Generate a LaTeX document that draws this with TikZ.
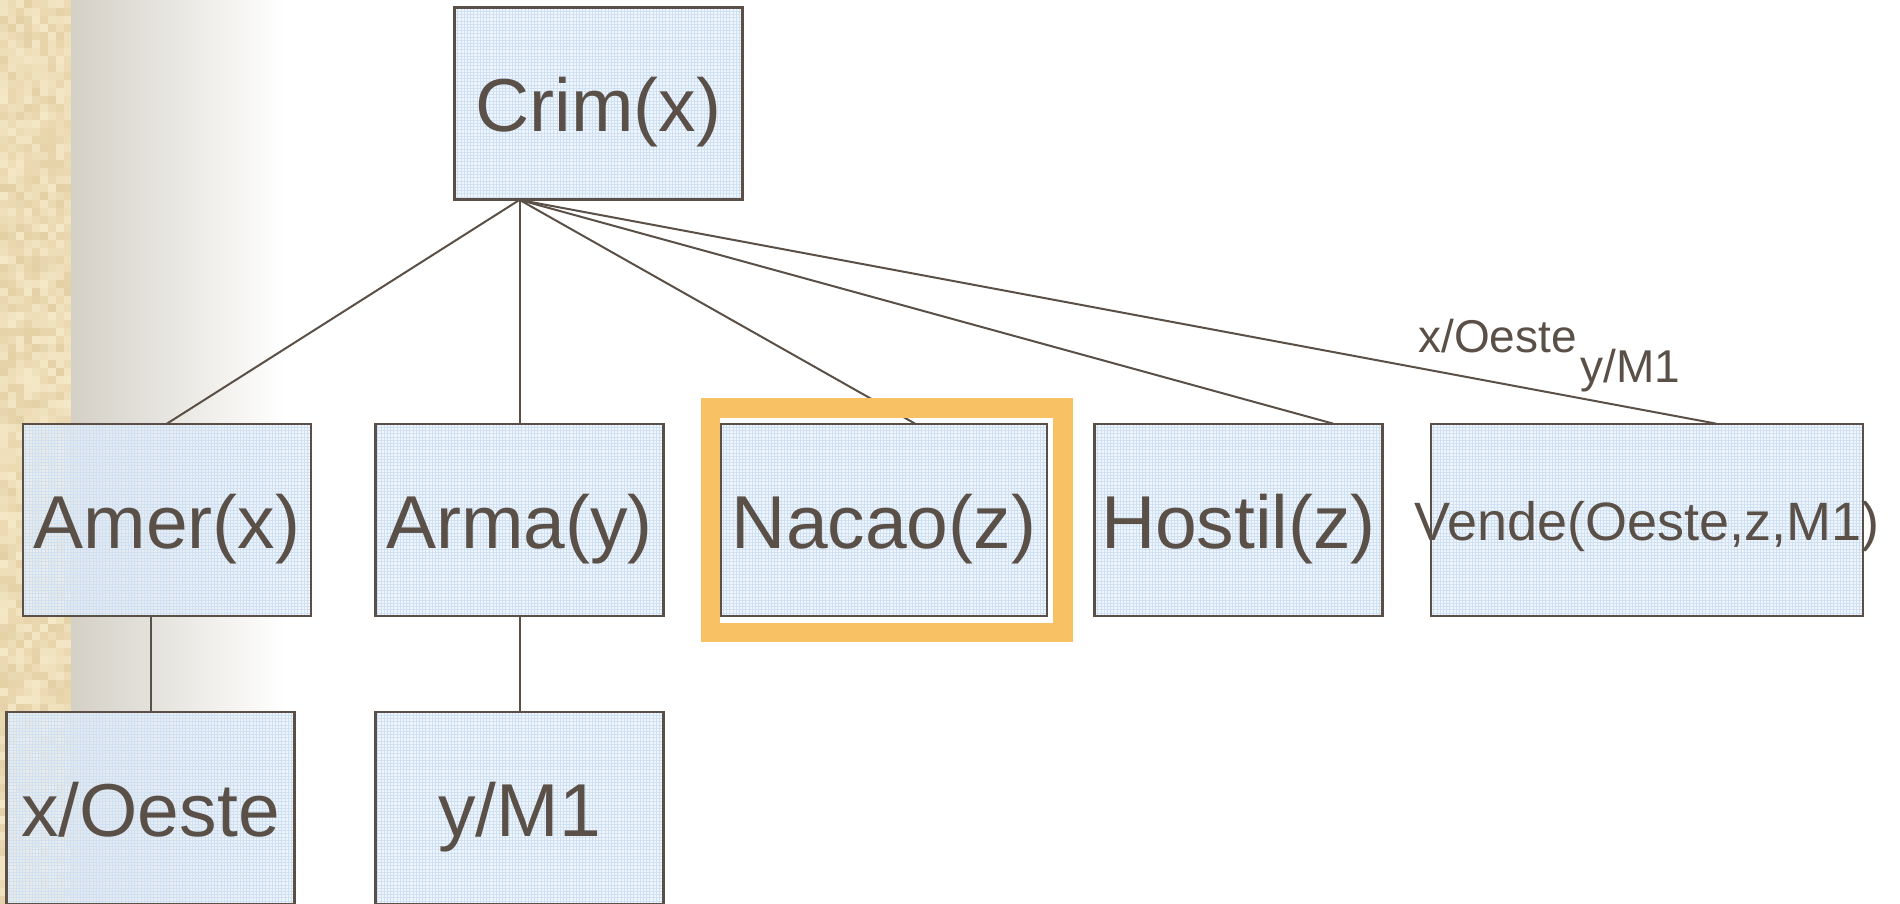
\documentclass[tikz,border=0pt]{standalone}
\usepackage{fontspec}
\setmainfont{Liberation Sans}
\usepackage{tikz}
\usetikzlibrary{patterns.meta}

\definecolor{ink}{RGB}{90,80,71}
\definecolor{boxfill}{RGB}{232,241,251}
\definecolor{gridblue}{RGB}{208,224,243}
\definecolor{hilite}{RGB}{248,193,99}
\definecolor{parchlight}{RGB}{245,232,198}
\definecolor{parchdark}{RGB}{228,208,165}
\definecolor{fadegray}{RGB}{212,208,198}

\begin{document}
\begin{tikzpicture}[x=0.5pt,y=-0.5pt]
        \tikzstyle{every node} = [rectangle, inner sep=0pt, text=ink]
        \tikzstyle{goal} = [fill=boxfill, fill opacity=0.75, text opacity=1,
            postaction={pattern={Hatch[angle=0, distance=1.6pt, line width=0.25pt]}, pattern color=gridblue},
            postaction={draw=ink, draw opacity=1, line width=1.1pt},
            minimum width=144pt, minimum height=96pt, text height=28pt, text depth=0pt,
            font=\fontsize{37.5}{40}\selectfont]
        \tikzstyle{subst} = [anchor=base west, font=\fontsize{23}{25}\selectfont]
        \useasboundingbox (0,0) rectangle (1900,904);
        % parchment strip and fade
        \begin{scope}
            \clip (0,0) rectangle (71,904);
            \pgfmathsetseed{12}
            \foreach \i in {0,...,8}
                \foreach \j in {0,...,113} {
                    \pgfmathrandominteger{\r}{0}{100}
                    \fill[parchlight!\r!parchdark] (\i*8,\j*8) rectangle ++(8.5,8.5);
                }
        \end{scope}
        \shade[left color=fadegray, right color=white] (71,0) rectangle (285,904);
        % goals
        \node[goal] (crim) at (598.5,103.5) {Crim(x)};
        \node[goal] (amer) at (167,520) {Amer(x)};
        \node[goal] (arma) at (519.5,520) {Arma(y)};
        \node[goal, minimum width=163pt] (nacao) at (884,520) {Nacao(z)};
        \node[goal] (hostil) at (1238.5,520) {Hostil(z)};
        \node[goal, minimum width=216pt, text height=20pt, font=\fontsize{27}{29}\selectfont] (vende) at (1647,520) {\makebox[0pt]{Vende(Oeste,z,M1)}};
        \node[goal] (oeste) at (150.5,808) {x/Oeste};
        \node[goal] (mum) at (519.5,808) {y/M1};
        \node[subst] (lbloeste) at (1418,352) {x/Oeste};
        \node[subst] (lblmum) at (1580,382) {y/M1};
        \coordinate (root) at (arma.north |- crim.south);
        \foreach \to/\dx in {amer/0, arma/0, nacao/15.5, hostil/47.25, vende/34.5}
            \draw[ink, line width=1pt] (root) -- ([xshift=\dx pt]\to.north);
        \draw[ink, line width=1pt] (oeste.north |- amer.south) -- (oeste.north);
        \draw[ink, line width=1pt] (arma.south) -- (mum.north);
        % current goal
        \draw[hilite, line width=9.75pt] ([shift={(-10,-15.5)}]nacao.north west) rectangle ([shift={(15.5,16)}]nacao.south east);
    \end{tikzpicture}
\end{document}
